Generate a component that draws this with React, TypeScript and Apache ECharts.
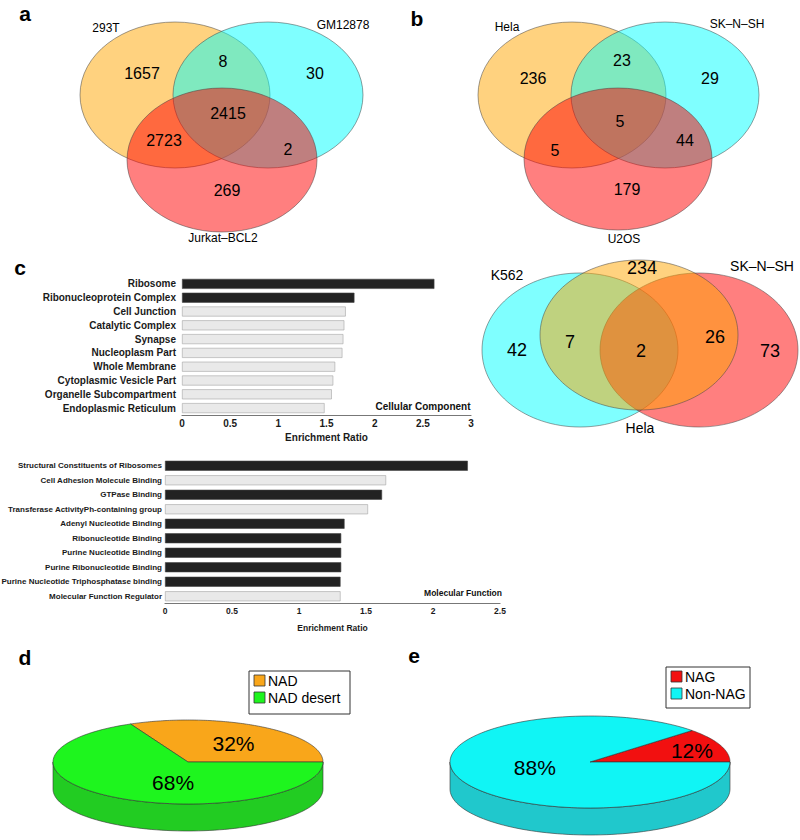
import React, { useEffect, useRef } from "react";
import * as echarts from "echarts";

const FONT = '"Liberation Sans", Arial, Helvetica, sans-serif';

// ---------- Venn data ----------
// region order: onlyA, onlyB, onlyC, AB, AC, BC, ABC
const vennASets = ["293T", "GM12878", "Jurkat–BCL2"];
const vennACounts = [1657, 30, 269, 8, 2723, 2, 2415];
const vennBSets = ["Hela", "SK–N–SH", "U2OS"];
const vennBCounts = [236, 29, 179, 23, 5, 44, 5];
// region order: onlyK562, onlyHela, onlySK, K562&Hela, Hela&SK, all
const vennCSets = ["K562", "Hela", "SK–N–SH"];
const vennCCounts = [42, 234, 73, 7, 26, 2];

// ---------- GO enrichment data ----------
const ccTerms = [
  "Ribosome",
  "Ribonucleoprotein Complex",
  "Cell Junction",
  "Catalytic Complex",
  "Synapse",
  "Nucleoplasm Part",
  "Whole Membrane",
  "Cytoplasmic Vesicle Part",
  "Organelle Subcompartment",
  "Endoplasmic Reticulum",
];
const ccRatio = [2.62, 1.79, 1.7, 1.685, 1.675, 1.665, 1.59, 1.57, 1.555, 1.48];
const ccSignificant = [1, 1, 0, 0, 0, 0, 0, 0, 0, 0];

const mfTerms = [
  "Structural Constituents of Ribosomes",
  "Cell Adhesion Molecule Binding",
  "GTPase Binding",
  "Transferase ActivityPh-containing group",
  "Adenyl Nucleotide Binding",
  "Ribonucleotide Binding",
  "Purine Nucleotide Binding",
  "Purine Ribonucleotide Binding",
  "Purine Nucleotide Triphosphatase binding",
  "Molecular Function Regulator",
];
const mfRatio = [2.26, 1.65, 1.62, 1.515, 1.34, 1.315, 1.315, 1.315, 1.31, 1.31];
const mfSignificant = [1, 0, 1, 0, 1, 1, 1, 1, 1, 0];

// ---------- Pie data ----------
const nadLabels = ["NAD", "NAD desert"];
const nadValues = [32, 68];
const nagLabels = ["NAG", "Non-NAG"];
const nagValues = [12, 88];

// ---------- styling / layout ----------
const ORANGE = "rgba(255,165,0,0.5)";
const CYAN = "rgba(0,255,255,0.5)";
const RED = "rgba(255,0,0,0.5)";
const STROKE = "rgba(70,70,70,0.75)";

function ell(cx: number, cy: number, rx: number, ry: number, fill: string) {
  return {
    type: "ellipse",
    shape: { cx, cy, rx, ry },
    style: { fill, stroke: STROKE, lineWidth: 0.7 },
    silent: true,
  };
}

function txt(x: number, y: number, text: string, size: number, bold = false, color = "#000") {
  return {
    type: "text",
    x,
    y,
    silent: true,
    style: {
      text,
      fill: color,
      font: `${bold ? "bold " : ""}${size}px ${FONT}`,
      fontSize: size,
      fontWeight: bold ? "bold" : "normal",
      fontFamily: FONT,
      textAlign: "center",
      textVerticalAlign: "middle",
      align: "center",
      verticalAlign: "middle",
    },
  };
}

const vennAPos = [[142, 73], [315, 73], [227, 190], [223, 61], [164, 140], [288, 149], [228, 113]];
const vennASetPos = [[106, 28], [343, 25], [223, 238]];
const vennBPos = [[533, 78], [710, 78], [627, 189], [622, 60], [555, 150], [685, 140], [620, 121]];
const vennBSetPos = [[507, 27], [737, 24], [624, 239]];
const vennCPos = [[517, 350], [642, 268], [770, 351], [570, 342], [715, 337], [641, 351]];
const vennCSetPos = [[507, 275], [640, 428], [762, 266]];

function pie3D(
  values: number[],
  colors: string[],
  sideColors: string[],
  cx: number,
  cy: number,
  rx: number,
  ry: number,
  depth: number,
  labelPos: number[][]
) {
  const total = values.reduce((a, b) => a + b, 0);
  return {
    type: "custom",
    coordinateSystem: "none",
    silent: true,
    data: values,
    renderItem: (params: any) => {
      const i = params.dataIndex;
      let start = 0;
      for (let j = 0; j < i; j++) start += values[j];
      const a0 = (start / total) * Math.PI * 2;
      const a1 = ((start + values[i]) / total) * Math.PI * 2;
      const pt = (a: number, dy = 0) => [cx + rx * Math.cos(a), cy - ry * Math.sin(a) + dy];
      const children: any[] = [];
      const s0 = Math.max(a0, Math.PI);
      const s1 = Math.min(a1, Math.PI * 2);
      if (s1 > s0) {
        const pts: number[][] = [];
        const n = 80;
        for (let k = 0; k <= n; k++) pts.push(pt(s0 + ((s1 - s0) * k) / n));
        for (let k = n; k >= 0; k--) pts.push(pt(s0 + ((s1 - s0) * k) / n, depth));
        children.push({
          type: "polygon",
          shape: { points: pts },
          style: { fill: sideColors[i], stroke: "#333", lineWidth: 0.6 },
        });
      }
      const top: number[][] = [[cx, cy]];
      const n2 = 120;
      for (let k = 0; k <= n2; k++) top.push(pt(a0 + ((a1 - a0) * k) / n2));
      children.push({
        type: "polygon",
        shape: { points: top },
        style: { fill: colors[i], stroke: "#333", lineWidth: 0.6 },
      });
      const lp = labelPos[i];
      const la = (lp[1] * Math.PI) / 180;
      const pct = Math.round((values[i] / total) * 100) + "%";
      children.push({
        type: "text",
        x: cx + rx * lp[0] * Math.cos(la),
        y: cy - ry * lp[0] * Math.sin(la),
        style: {
          text: pct,
          fill: "#000",
          fontSize: 21,
          fontFamily: FONT,
          align: "center",
          verticalAlign: "middle",
        },
      });
      return { type: "group", children };
    },
  };
}

function legendBox(x: number, y: number, w: number, h: number, labels: string[], colors: string[]) {
  const els: any[] = [
    { type: "rect", shape: { x, y, width: w, height: h }, style: { fill: "#fff", stroke: "#333", lineWidth: 1 }, silent: true },
  ];
  labels.forEach((l, i) => {
    const yy = y + 9 + i * 17;
    els.push({
      type: "rect",
      shape: { x: x + 5, y: yy - 5, width: 11, height: 11 },
      style: { fill: colors[i], stroke: "#333", lineWidth: 0.8 },
      silent: true,
    });
    els.push({
      type: "text",
      x: x + 19,
      y: yy + 1,
      silent: true,
      style: {
        text: l,
        fill: "#000",
        fontSize: 14,
        fontFamily: FONT,
        textAlign: "left",
        textVerticalAlign: "middle",
        align: "left",
        verticalAlign: "middle",
      },
    });
  });
  return els;
}

export default function App() {
  const ref = useRef<HTMLDivElement>(null);
  useEffect(() => {
    if (!ref.current) return;
    const chart = echarts.init(ref.current, undefined, { renderer: "svg" });

    const graphics: any[] = [];
    // Panel letters
    graphics.push(txt(25, 13, "a", 21, true));
    graphics.push(txt(417, 18, "b", 21, true));
    graphics.push(txt(20, 267, "c", 21, true));
    graphics.push(txt(25, 657, "d", 21, true));
    graphics.push(txt(414, 655, "e", 21, true));

    // Venn a
    graphics.push(ell(175, 95, 95, 73, ORANGE));
    graphics.push(ell(268, 95, 95, 73, CYAN));
    graphics.push(ell(222, 160, 95, 72, RED));
    vennACounts.forEach((c, i) => graphics.push(txt(vennAPos[i][0], vennAPos[i][1], String(c), 16)));
    vennASets.forEach((s, i) => graphics.push(txt(vennASetPos[i][0], vennASetPos[i][1], s, 12)));

    // Venn b
    graphics.push(ell(572, 95, 94, 73, ORANGE));
    graphics.push(ell(665, 95, 94, 73, CYAN));
    graphics.push(ell(618, 159, 94, 71, RED));
    vennBCounts.forEach((c, i) => graphics.push(txt(vennBPos[i][0], vennBPos[i][1], String(c), 16)));
    vennBSets.forEach((s, i) => graphics.push(txt(vennBSetPos[i][0], vennBSetPos[i][1], s, 12)));

    // Venn c (K562 / Hela / SK-N-SH)
    graphics.push(ell(580, 350, 98, 77, CYAN));
    graphics.push(ell(699, 350, 99, 77, RED));
    graphics.push(ell(639, 335, 99, 75, ORANGE));
    vennCCounts.forEach((c, i) => graphics.push(txt(vennCPos[i][0], vennCPos[i][1], String(c), 18)));
    vennCSets.forEach((s, i) => graphics.push(txt(vennCSetPos[i][0], vennCSetPos[i][1], s, 14)));

    // bar panel titles
    graphics.push(txt(423, 406, "Cellular Component", 10, true, "#111"));
    graphics.push(txt(463, 593, "Molecular Function", 8.5, true, "#111"));

    // legends
    legendBox(249, 671, 101, 43, nadLabels, ["#F9A61A", "#1EF51E"]).forEach((e) => graphics.push(e));
    legendBox(666, 667, 84, 41, nagLabels, ["#F21010", "#10F5F5"]).forEach((e) => graphics.push(e));

    const DARK = "#222";
    const LIGHT = "#e9e9e9";

    const axisLabelStyle = (size: number) => ({
      color: "#1a1a1a",
      fontWeight: "bold",
      fontSize: size,
      fontFamily: FONT,
    });

    const option: any = {
      animation: false,
      backgroundColor: "#fff",
      textStyle: { fontFamily: FONT },
      graphic: { elements: graphics },
      grid: [
        { left: 182, top: 277, width: 289, height: 138, containLabel: false, outerBoundsMode: "none" },
        { left: 165, top: 458.5, width: 335, height: 145, containLabel: false, outerBoundsMode: "none" },
      ],
      xAxis: [
        {
          gridIndex: 0,
          type: "value",
          min: 0,
          max: 3,
          interval: 0.5,
          splitLine: { show: false },
          axisTick: { show: false },
          axisLine: { show: true, lineStyle: { color: "#777", width: 1.2 } },
          axisLabel: { ...axisLabelStyle(10), margin: 3 },
          name: "Enrichment Ratio",
          nameLocation: "middle",
          nameGap: 17,
          nameTextStyle: { ...axisLabelStyle(10) },
        },
        {
          gridIndex: 1,
          type: "value",
          min: 0,
          max: 2.5,
          interval: 0.5,
          splitLine: { show: false },
          axisTick: { show: false },
          axisLine: { show: true, lineStyle: { color: "#777", width: 1.2 } },
          axisLabel: { ...axisLabelStyle(8.5), margin: 3 },
          name: "Enrichment Ratio",
          nameLocation: "middle",
          nameGap: 20,
          nameTextStyle: { ...axisLabelStyle(8.5) },
        },
      ],
      yAxis: [
        {
          gridIndex: 0,
          type: "category",
          inverse: true,
          data: ccTerms,
          axisLine: { show: false },
          axisTick: { show: false },
          axisLabel: { ...axisLabelStyle(10), margin: 6 },
        },
        {
          gridIndex: 1,
          type: "category",
          inverse: true,
          data: mfTerms,
          axisLine: { show: false },
          axisTick: { show: false },
          axisLabel: { ...axisLabelStyle(8), margin: 3 },
        },
      ],
      series: [
        {
          type: "bar",
          xAxisIndex: 0,
          yAxisIndex: 0,
          barWidth: 10,
          silent: true,
          data: ccRatio.map((v, i) => ({
            value: v,
            itemStyle: {
              color: ccSignificant[i] ? DARK : LIGHT,
              borderColor: ccSignificant[i] ? "#444" : "#a5a5a5",
              borderWidth: 0.6,
            },
          })),
        },
        {
          type: "bar",
          xAxisIndex: 1,
          yAxisIndex: 1,
          barWidth: 10,
          silent: true,
          data: mfRatio.map((v, i) => ({
            value: v,
            itemStyle: {
              color: mfSignificant[i] ? DARK : LIGHT,
              borderColor: mfSignificant[i] ? "#444" : "#a5a5a5",
              borderWidth: 0.6,
            },
          })),
        },
        pie3D(nadValues, ["#F9A61A", "#1EF51E"], ["#F0A010", "#22CC22"], 188, 762, 135, 42, 27, [
          [0.56, 53],
          [0.49, 257],
        ]),
        pie3D(nagValues, ["#F21010", "#10F5F5"], ["#C81010", "#20C8CC"], 590, 762, 140, 46, 27, [
          [0.77, 19],
          [0.41, 196],
        ]),
      ],
    };
    chart.setOption(option);
    return () => chart.dispose();
  }, []);
  return (
    <div
      ref={ref}
      style={{ position: "absolute", left: 0, top: 0, width: 800, height: 840, background: "#fff" }}
    />
  );
}
